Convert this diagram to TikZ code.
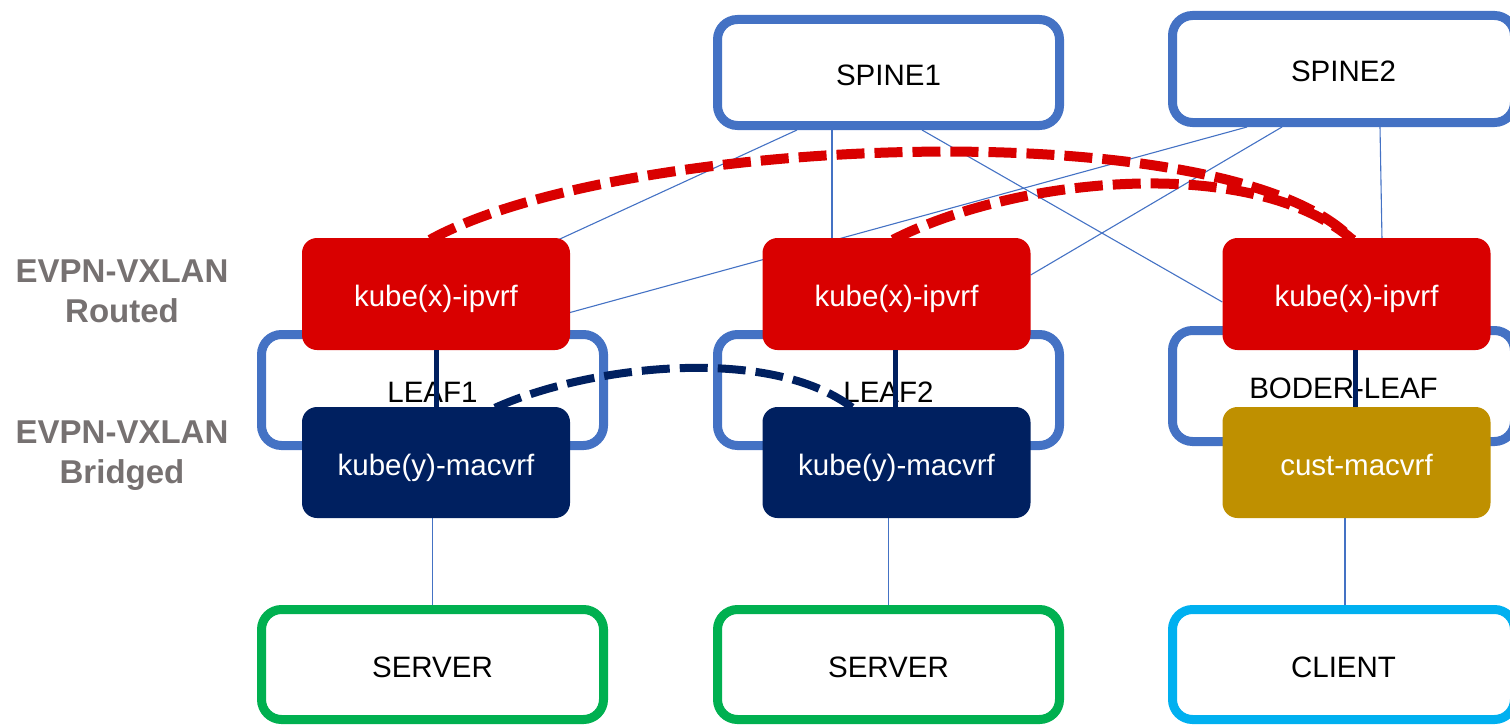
\documentclass[tikz,border=0pt]{standalone}
\usepackage{fontspec}
\setmainfont{Liberation Sans}
\usetikzlibrary{calc}
\definecolor{fabricblue}{HTML}{4472C4}
\definecolor{ipred}{HTML}{D90000}
\definecolor{macnavy}{HTML}{002060}
\definecolor{custgold}{HTML}{BF9000}
\definecolor{srvgreen}{HTML}{00B050}
\definecolor{clientcyan}{HTML}{00B0F0}
\definecolor{labelgray}{HTML}{767171}
\pgfdeclarelayer{wires}
\pgfsetlayers{wires,main}
\begin{document}
\begin{tikzpicture}[x=1pt,y=-1pt,
  txt/.style={font=\fontsize{29.5}{34}\selectfont, text height=25pt, text depth=0pt},
  devbox/.style={txt, draw=#1, line width=9pt, fill=white, rounded corners=20pt,
    inner sep=0pt, minimum width=342pt, minimum height=109pt, text=black},
  leafbox/.style={txt, draw=fabricblue, line width=9pt, rounded corners=20pt,
    inner sep=0pt, minimum width=342pt, minimum height=111pt, text=black},
  vrfbox/.style={txt, fill=#1, rounded corners=15pt, inner sep=0pt,
    minimum width=268pt, minimum height=111pt, text=white},
  wire/.style={fabricblue, line width=1.1pt},
  vlink/.style={macnavy, line width=5pt},
  l3tunnel/.style={ipred, line width=10pt, dash pattern=on 28pt off 10pt},
  l2tunnel/.style={macnavy, line width=8pt, dash pattern=on 28pt off 10pt},
  tier/.style={labelgray, font=\fontsize{33}{40}\selectfont\bfseries, align=center}
]
\useasboundingbox (0,0) rectangle (1510,725);
\clip (0,0) rectangle (1510,725);

% leaf switches (outlines behind the VRFs)
\node[leafbox] (leaf1) at (432.5,390) {LEAF1};
\node[leafbox] (leaf2) at (888.5,390) {LEAF2};
\node[leafbox] (bleaf) at (1343.5,386) {BODER-LEAF};

% spines
\node[devbox=fabricblue, minimum height=106pt] (sp1) at (888.5,72.5) {SPINE1};
\node[devbox=fabricblue, minimum height=107pt] (sp2) at (1343.5,69) {SPINE2};

% end hosts
\node[devbox=srvgreen, minimum height=110pt] (srv1) at (432.5,664.5) {SERVER};
\node[devbox=srvgreen, minimum height=110pt] (srv2) at (888.5,664.5) {SERVER};
\node[devbox=clientcyan, minimum height=110pt] (cli) at (1343.5,664.5) {CLIENT};

% routed VRFs
\node[vrfbox=ipred, minimum height=112pt] (r1) at (436,294) {kube(x)-ipvrf};
\node[vrfbox=ipred, minimum height=112pt] (r2) at (896.5,294) {kube(x)-ipvrf};
\node[vrfbox=ipred, minimum height=112pt] (r3) at (1356.5,294) {kube(x)-ipvrf};

% bridged VRFs
\node[vrfbox=macnavy] (m1) at (436,462.5) {kube(y)-macvrf};
\node[vrfbox=macnavy] (m2) at (896.5,462.5) {kube(y)-macvrf};
\node[vrfbox=custgold] (m3) at (1356.5,462.5) {cust-macvrf};

% tier labels
\node[tier] (lblr) at (122,291) {EVPN-VXLAN\\Routed};
\node[tier] (lblb) at (122,456) {EVPN-VXLAN\\Bridged};

% fabric links, kept behind the boxes
\begin{pgfonlayer}{wires}
  \draw[wire] ($(sp1.south)+(-91.5,0)$) -- ($(r1.north east)+(-12,2)$);
  \draw[wire] ($(sp1.south)+(-56.5,0)$) -- ($(r2.north)+(-64.5,2)$);
  \draw[wire] ($(sp1.south)+(33.5,0)$) -- ($(r3.west)+(0,8)$);
  \draw[wire] ($(sp2.south)+(-96.5,0)$) -- ($(r1.east)+(-2,19)$);
  \draw[wire] ($(sp2.south)+(-61.5,0)$) -- ($(r2.east)+(0,-19)$);
  \draw[wire] ($(sp2.south)+(36.5,0)$) -- ($(r3.north)+(25.5,2)$);
  \draw[wire] (srv1.north |- m1.south) -- (srv1.north);
  \draw[wire] (srv2.north |- m2.south) -- (srv2.north);
  \draw[wire] ($(cli.north |- m3.south)+(1.5,0)$) -- ($(cli.north)+(1.5,0)$);
\end{pgfonlayer}

% IRB links between the VRFs of each leaf
\draw[vlink] (r1.south) -- (m1.north);
\draw[vlink] ($(r2.south)+(-1.5,0)$) -- ($(m2.north)+(-1.5,0)$);
\draw[vlink] ($(r3.south)+(-1.5,0)$) -- ($(m3.north)+(-1.5,0)$);

% routed overlay tunnels
\draw[l3tunnel] ($(r1.north)+(-6,2)$) .. controls (620,135) and (1230,110) .. ($(r3.north)+(-4,2)$);
\draw[l3tunnel] ($(r2.north)+(-3.5,2)$) .. controls (1020,175) and (1255,155) .. ($(r3.north)+(-4,2)$);

% bridged overlay tunnel
\draw[l2tunnel] ($(m1.north)+(59,1)$) .. controls (590,365) and (770,345) .. ($(m2.north)+(-44,1)$);
\end{tikzpicture}
\end{document}
